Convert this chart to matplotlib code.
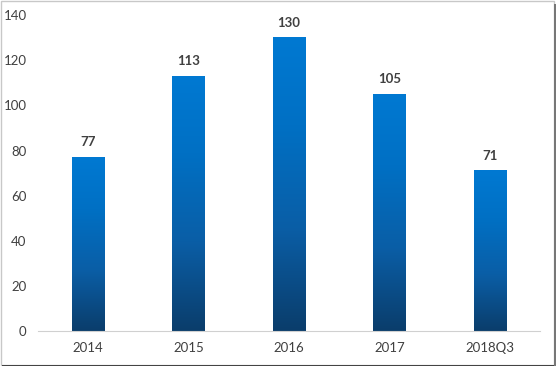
import matplotlib
matplotlib.use("Agg")
import matplotlib.pyplot as plt
import numpy as np
from matplotlib.colors import LinearSegmentedColormap
from matplotlib.patches import Rectangle

categories = ["2014", "2015", "2016", "2017", "2018Q3"]
values = [77, 113, 130, 105, 71]

plt.rcParams['font.family'] = ['Lato', 'DejaVu Sans']

fig = plt.figure(figsize=(5.56, 3.66), dpi=100)
ax = fig.add_axes([0.068, 0.0956, 0.903, 0.863])

cmap = LinearSegmentedColormap.from_list(
    "blu", [(0, "#0b3d6b"), (0.35, "#0a5ea6"), (0.7, "#0070c4"), (1, "#0079d2")])
grad = np.linspace(0, 1, 256).reshape(-1, 1)
width = 0.32

x = np.arange(len(categories))
bars = ax.bar(x, values, width=width, color="none")
for b, v in zip(bars, values):
    x0 = b.get_x()
    ax.imshow(grad, cmap=cmap, origin="lower", aspect="auto",
              extent=[x0, x0 + width, 0, v], zorder=2)
    ax.text(b.get_x() + width / 2, v + 4, str(v), ha="center", va="bottom",
            fontsize=9.5, fontweight="bold", color="#404040")

ax.set_xlim(-0.5, len(categories) - 0.5)
ax.set_ylim(0, 140)
ax.set_yticks(range(0, 141, 20))
ax.set_xticks(x)
ax.set_xticklabels(categories)
ax.tick_params(length=0, labelsize=9.5, labelcolor="#404040")
ax.tick_params(axis="y", pad=8)
ax.tick_params(axis="x", pad=8)
for s in ["top", "right", "left"]:
    ax.spines[s].set_visible(False)
ax.spines["bottom"].set_color("#d0d0d0")

# outer frame with a dark shadow on the bottom and right
fig.patches.append(Rectangle((0.002, 0.004), 0.994, 0.992, transform=fig.transFigure,
                             fill=False, edgecolor="#c8c8c8", linewidth=1.0))
fig.patches.append(Rectangle((0.004, 0.0), 0.996, 0.004, transform=fig.transFigure,
                             color="#444444", linewidth=0))
fig.patches.append(Rectangle((0.997, 0.0), 0.003, 0.99, transform=fig.transFigure,
                             color="#777777", linewidth=0))

fig.savefig("out.png", dpi=100)
